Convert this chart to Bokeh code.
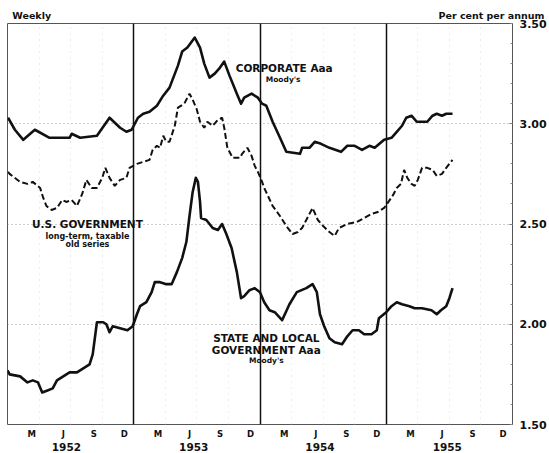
from bokeh.plotting import figure
from bokeh.models import LinearAxis, FixedTicker, Range1d, Label, Grid
from bokeh.embed import file_html
from bokeh.resources import INLINE

# x = months since 1 Jan 1952 (weekly readings)
corp_m = [0.05, 0.7, 1.5, 2.6, 4.0, 5.9, 6.1, 6.9, 8.5, 9.7, 10.7, 11.3, 11.8, 12.4, 12.9, 13.5,
          14.2, 14.8, 15.4, 16.2, 16.6, 17.1, 17.8, 18.3, 18.7, 19.2, 19.7, 20.2, 20.6, 21.1,
          21.8, 22.2, 22.5, 23.2, 23.8, 24.2, 24.6, 25.2, 25.9, 26.5, 27.8, 28.0, 28.7, 29.2,
          29.8, 30.6, 31.7, 32.3, 33.0, 33.7, 34.4, 34.9, 35.8, 36.5, 37.0, 37.5, 37.9, 38.4,
          38.9, 39.9, 40.4, 40.8, 41.3, 41.7, 42.3]
corp_v = [3.03, 2.97, 2.92, 2.97, 2.93, 2.93, 2.95, 2.93, 2.94, 3.03, 2.98, 2.96, 2.97, 3.03, 3.05, 3.06,
          3.09, 3.14, 3.18, 3.29, 3.36, 3.38, 3.43, 3.38, 3.30, 3.23, 3.25, 3.28, 3.31, 3.24,
          3.15, 3.10, 3.13, 3.15, 3.13, 3.10, 3.09, 3.01, 2.93, 2.86, 2.85, 2.88, 2.88, 2.91,
          2.90, 2.88, 2.86, 2.89, 2.89, 2.87, 2.89, 2.88, 2.92, 2.93, 2.96, 2.99, 3.03, 3.04,
          3.01, 3.01, 3.04, 3.05, 3.04, 3.05, 3.05]

govt_m = [0.05, 0.2, 1.2, 1.9, 2.4, 3.1, 3.4, 3.7, 4.2, 4.7, 5.2, 5.6, 6.1, 6.6, 7.1, 7.5, 8.0, 8.5,
          9.0, 9.3, 9.7, 10.2, 10.7, 11.3, 11.6, 12.3, 12.9, 13.5, 13.8, 14.2, 14.5, 14.8, 15.1,
          15.4, 15.9, 16.2, 16.8, 17.3, 17.6, 18.0, 18.3, 18.7, 19.0, 19.5, 20.0, 20.4, 20.6,
          20.9, 21.4, 22.1, 22.3, 22.8, 23.2, 23.5, 23.8, 24.2, 24.4, 25.2, 25.9, 26.5, 27.1,
          27.6, 28.0, 28.5, 29.0, 29.5, 30.0, 30.6, 31.1, 31.5, 32.3, 33.2, 33.9, 34.6, 35.2,
          35.8, 36.6, 37.0, 37.4, 37.7, 38.0, 38.4, 38.7, 39.0, 39.4, 39.9, 40.4, 40.8, 41.3,
          41.7, 42.3]
govt_v = [2.76, 2.75, 2.71, 2.70, 2.71, 2.68, 2.63, 2.59, 2.57, 2.58, 2.62, 2.61, 2.62, 2.59, 2.65, 2.72, 2.68, 2.68,
          2.73, 2.78, 2.73, 2.69, 2.72, 2.73, 2.78, 2.80, 2.81, 2.82, 2.87, 2.89, 2.88, 2.94, 2.91,
          2.91, 2.99, 3.08, 3.10, 3.15, 3.12, 3.07, 3.01, 2.98, 3.01, 2.99, 3.02, 3.03, 2.98,
          2.88, 2.83, 2.83, 2.85, 2.88, 2.84, 2.79, 2.76, 2.71, 2.68, 2.59, 2.54, 2.49, 2.45,
          2.46, 2.48, 2.53, 2.58, 2.52, 2.49, 2.46, 2.44, 2.48, 2.50, 2.51, 2.53, 2.55, 2.56,
          2.58, 2.64, 2.68, 2.70, 2.77, 2.73, 2.70, 2.69, 2.72, 2.78, 2.78, 2.77, 2.74, 2.75,
          2.78, 2.82]

state_m = [0.0, 0.2, 1.2, 1.9, 2.4, 2.9, 3.3, 3.8, 4.3, 4.7, 5.3, 5.9, 6.6, 7.2, 7.8, 8.1, 8.5, 9.1,
           9.4, 9.7, 10.0, 10.7, 11.4, 11.9, 12.3, 12.6, 13.2, 13.7, 14.0, 14.5, 15.1, 15.6,
           16.1, 16.6, 17.0, 17.3, 17.6, 17.9, 18.1, 18.3, 18.4, 18.9, 19.5, 20.0, 20.4, 20.8,
           21.3, 21.8, 22.2, 22.5, 23.0, 23.5, 24.0, 24.4, 24.9, 25.4, 26.1, 26.8, 27.5, 28.4,
           29.0, 29.4, 29.7, 30.1, 30.6, 31.1, 31.8, 32.3, 32.8, 33.4, 33.9, 34.6, 35.1, 35.3,
           36.0, 36.5, 37.0, 37.5, 38.2, 38.7, 39.4, 40.3, 40.8, 41.2, 41.7, 42.0, 42.3]
state_v = [1.77, 1.75, 1.74, 1.71, 1.72, 1.71, 1.66, 1.67, 1.68, 1.72, 1.74, 1.76, 1.76, 1.78, 1.80, 1.85, 2.01, 2.01,
           2.00, 1.96, 1.99, 1.98, 1.97, 1.99, 2.05, 2.09, 2.11, 2.16, 2.21, 2.21, 2.20, 2.20,
           2.26, 2.33, 2.41, 2.54, 2.66, 2.73, 2.71, 2.61, 2.53, 2.52, 2.48, 2.47, 2.50, 2.45,
           2.38, 2.26, 2.13, 2.14, 2.17, 2.18, 2.16, 2.11, 2.07, 2.06, 2.02, 2.10, 2.16, 2.18,
           2.20, 2.16, 2.05, 1.99, 1.93, 1.91, 1.90, 1.94, 1.97, 1.97, 1.95, 1.95, 1.97, 2.03,
           2.06, 2.09, 2.11, 2.10, 2.09, 2.08, 2.08, 2.07, 2.05, 2.07, 2.09, 2.13, 2.18]

y_ticks = [1.5, 2.0, 2.5, 3.0, 3.5]
y_tick_labels = ["1.50", "2.00", "2.50", "3.00", "3.50"]
month_ticks = [2.3, 5.3, 8.2, 11.1, 14.3, 17.3, 20.2, 23.1, 26.3, 29.3, 32.2, 35.1,
               38.3, 41.3, 44.2, 47.1]
month_labels = ["M", "J", "S", "D"] * 4
year_ticks = [5.6, 17.7, 29.7, 41.8]
year_labels = ["1952", "1953", "1954", "1955"]
head_ticks = [2.3, 46.0]
head_labels = ["Weekly", "Per cent per annum"]
year_lines = [12, 24, 36]
quarter_lines = [3, 6, 9, 15, 18, 21, 27, 30, 33, 39, 42, 45]

FONT = "DejaVu Sans"
INK = "#111111"

p = figure(width=549, height=453, x_range=Range1d(0, 48), y_range=Range1d(1.5, 3.5),
           output_backend="svg", toolbar_location=None, x_axis_location=None,
           y_axis_location="right", min_border_left=7, min_border_right=36,
           min_border_top=23, min_border_bottom=29, background_fill_color="white",
           border_fill_color="white")
p.title.visible = False
p.grid.visible = False
p.outline_line_color = "#555555"
p.outline_line_width = 1

# right axis
ya = p.yaxis[0]
ya.ticker = FixedTicker(ticks=y_ticks, minor_ticks=[1.5 + 0.1 * i for i in range(21)])
ya.major_label_overrides = {t: l for t, l in zip(y_ticks, y_tick_labels)}
ya.axis_line_color = None
ya.major_tick_out = 0
ya.major_tick_in = 3
ya.minor_tick_in = 2
ya.minor_tick_out = 0
ya.major_tick_line_color = "#666666"
ya.minor_tick_line_color = "#888888"
ya.major_label_standoff = 7
ya.major_label_text_font = FONT
ya.major_label_text_font_style = "bold"
ya.major_label_text_font_size = "11px"
ya.major_label_text_color = INK

# bottom axes: months, then years; top axis carries the header texts
ma = LinearAxis(ticker=FixedTicker(ticks=month_ticks),
                major_label_overrides={t: l for t, l in zip(month_ticks, month_labels)})
ya2 = LinearAxis(ticker=FixedTicker(ticks=year_ticks),
                 major_label_overrides={t: l for t, l in zip(year_ticks, year_labels)})
ha = LinearAxis(ticker=FixedTicker(ticks=head_ticks),
                major_label_overrides={t: l for t, l in zip(head_ticks, head_labels)})
for ax, fs, so in ((ma, "8.5px", 4), (ya2, "10.5px", 1), (ha, "9.5px", 3)):
    ax.axis_line_color = None
    ax.major_tick_line_color = None
    ax.minor_tick_line_color = None
    ax.major_tick_out = 0
    ax.major_tick_in = 0
    ax.minor_tick_out = 0
    ax.minor_tick_in = 0
    ax.major_label_standoff = so
    ax.major_label_text_font = FONT
    ax.major_label_text_font_style = "bold"
    ax.major_label_text_font_size = fs
    ax.major_label_text_color = INK
p.add_layout(ma, "below")
p.add_layout(ya2, "below")
p.add_layout(ha, "above")

# grids
p.add_layout(Grid(dimension=1, ticker=FixedTicker(ticks=[2.0, 2.5, 3.0]),
                  grid_line_color="#9a9a9a", grid_line_dash="1 3", grid_line_width=1))
p.add_layout(Grid(dimension=0, ticker=FixedTicker(ticks=quarter_lines),
                  grid_line_color="#dadada", grid_line_dash="1 5", grid_line_width=1))
p.add_layout(Grid(dimension=0, ticker=FixedTicker(ticks=year_lines),
                  grid_line_color=INK, grid_line_width=1.5))

# series
p.line(corp_m, corp_v, line_color=INK, line_width=2.6, line_join="round")
p.line(govt_m, govt_v, line_color=INK, line_width=2.0, line_dash="6 3")
p.line(state_m, state_v, line_color=INK, line_width=2.6, line_join="round")

def lab(x, y, text, size, align="center"):
    p.add_layout(Label(x=x, y=y, text=text, text_font=FONT, text_font_style="bold",
                       text_font_size=size, text_color=INK, text_align=align,
                       text_baseline="middle"))

lab(26.3, 3.28, "CORPORATE Aaa", "10.5px")
lab(26.2, 3.22, "Moody's", "7.5px")
lab(7.6, 2.50, "U.S. GOVERNMENT", "10.5px")
lab(7.6, 2.44, "long-term, taxable", "8px")
lab(7.6, 2.40, "old series", "8px")
lab(24.6, 1.93, "STATE AND LOCAL", "10.5px")
lab(24.6, 1.87, "GOVERNMENT Aaa", "10.5px")
lab(24.6, 1.82, "Moody's", "7.5px")

open("out.html", "w").write(file_html(p, INLINE))
